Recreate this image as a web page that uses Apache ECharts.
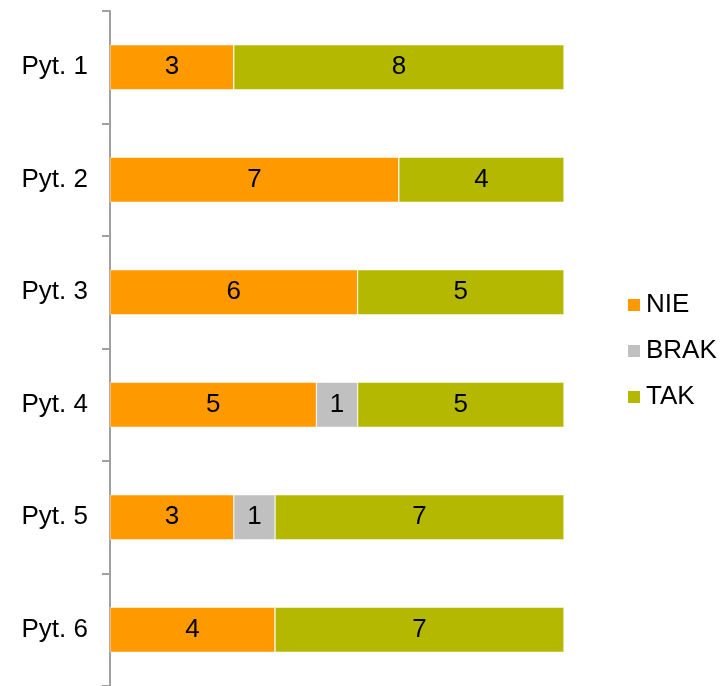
<!DOCTYPE html>
<html><head><meta charset="utf-8">
<script src="https://cdn.jsdelivr.net/npm/echarts@6/dist/echarts.min.js"></script>
<style>html,body{margin:0;padding:0;background:#fff}#c{width:720px;height:686px}</style>
</head><body><div id="c"></div>
<script>
const categories = ['Pyt. 1','Pyt. 2','Pyt. 3','Pyt. 4','Pyt. 5','Pyt. 6'];
const nie = [3,7,6,5,3,4];
const brak = [0,0,0,1,1,0];
const tak = [8,4,5,5,7,7];
const seriesNames = ['NIE','BRAK','TAK'];
const colors = ['#FF9900','#C0C0C0','#B5B800'];

const FONT = 'Liberation Sans, Arial, sans-serif';
const chart = echarts.init(document.getElementById('c'));
const lbl = {show:true, position:'inside', color:'#000', fontSize:26, fontFamily:FONT,
  formatter: p => p.value ? String(p.value) : ''};
function mk(name, data, color){
  return {name, type:'bar', stack:'s', data, barWidth:45, label:lbl,
    itemStyle:{color, borderColor:'#fff', borderWidth:0.5}, emphasis:{disabled:true}};
}
chart.setOption({
  animation:false,
  textStyle:{fontFamily:FONT},
  grid:{left:110, right:156, top:11, height:678},
  xAxis:{type:'value', min:0, max:11, show:false},
  yAxis:{type:'category', data:categories, inverse:true,
    axisLine:{lineStyle:{color:'#A0A0A0', width:2}},
    axisTick:{show:true, length:8, lineStyle:{color:'#A0A0A0', width:2}},
    axisLabel:{color:'#000', fontSize:26, margin:22, fontFamily:FONT}},
  legend:{orient:'vertical', left:621, top:287, itemWidth:14, itemHeight:14, itemGap:20,
    icon:'rect', textStyle:{fontSize:26, color:'#000', fontFamily:FONT},
    data:seriesNames},
  series:[mk(seriesNames[0], nie, colors[0]), mk(seriesNames[1], brak, colors[1]), mk(seriesNames[2], tak, colors[2])]
});
</script></body></html>
